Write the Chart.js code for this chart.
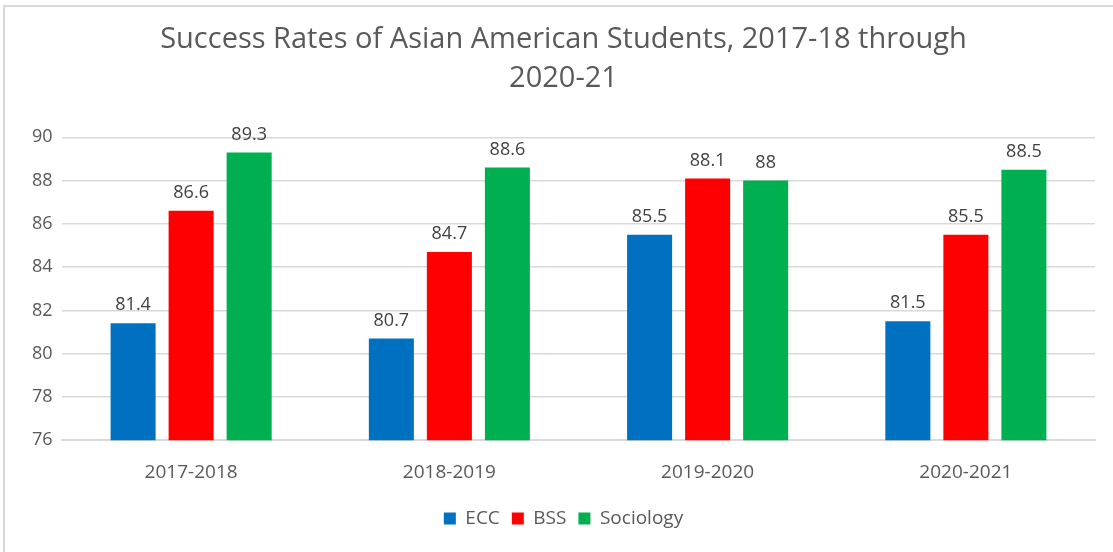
<!DOCTYPE html>
<html>
<head>
<meta charset="utf-8">
<script src="https://cdn.jsdelivr.net/npm/chart.js@4.4.0/dist/chart.umd.min.js"></script>
<style>
 html,body{margin:0;padding:0;background:#fff;overflow:hidden;width:1113px;height:552px;}
 #frame{position:absolute;left:3px;top:5px;width:1108px;height:545px;border-left:2px solid #d9d9d9;border-top:2px solid #d9d9d9;}
 #wrap{position:absolute;left:0;top:0;width:1113px;height:552px;}
</style>
</head>
<body>
<div id="frame"></div>
<div id="wrap"><canvas id="c"></canvas></div>
<script>
const years=['2017-2018','2018-2019','2019-2020','2020-2021'];
const ecc=[81.4,80.7,85.5,81.5];
const bss=[86.6,84.7,88.1,85.5];
const sociology=[89.3,88.6,88,88.5];
const yTicks=[76,78,80,82,84,86,88,90];

const FONT='"Open Sans", sans-serif';
const GREY='#595959';

// value labels above each bar
const barLabels={
 id:'barLabels',
 afterDatasetsDraw(chart){
  const ctx=chart.ctx;
  ctx.save();
  ctx.font='18px '+FONT;
  ctx.fillStyle='#404040';
  ctx.textAlign='center';
  ctx.textBaseline='bottom';
  chart.data.datasets.forEach((ds,i)=>{
   chart.getDatasetMeta(i).data.forEach((bar,j)=>{
    ctx.fillText(String(ds.data[j]),bar.x,bar.y-9);
   });
  });
  ctx.restore();
 }
};

new Chart(document.getElementById('c'),{
 type:'bar',
 data:{
  labels:years,
  datasets:[
   {label:'ECC',data:ecc,backgroundColor:'#0070C0'},
   {label:'BSS',data:bss,backgroundColor:'#FF0000'},
   {label:'Sociology',data:sociology,backgroundColor:'#00B050'}
  ]
 },
 options:{
  responsive:true,
  maintainAspectRatio:false,
  animation:false,
  categoryPercentage:0.674,
  barPercentage:0.776,
  layout:{padding:{left:32,right:18,top:0,bottom:14}},
  plugins:{
   title:{display:true,text:['Success Rates of Asian American Students, 2017-18 through','2020-21'],
    color:GREY,font:{family:FONT,size:29,weight:'normal',lineHeight:1.35},padding:{top:20,bottom:39}},
   legend:{position:'bottom',labels:{color:GREY,font:{family:FONT,size:19},boxWidth:12,boxHeight:12,padding:12}},
   tooltip:{enabled:false}
  },
  scales:{
   x:{
    grid:{display:false},
    border:{display:true,color:'#d9d9d9',width:2},
    ticks:{color:GREY,font:{family:FONT,size:19},padding:13}
   },
   y:{
    min:76,max:90,
    afterBuildTicks(axis){axis.ticks=yTicks.map(v=>({value:v}));},
    afterFit(axis){axis.width=30;},
    grid:{color:'#d9d9d9',lineWidth:1.5,drawTicks:false},
    border:{display:false},
    ticks:{color:GREY,font:{family:FONT,size:18},crossAlign:'far'}
   }
  }
 },
 plugins:[barLabels]
});
</script>
</body>
</html>
